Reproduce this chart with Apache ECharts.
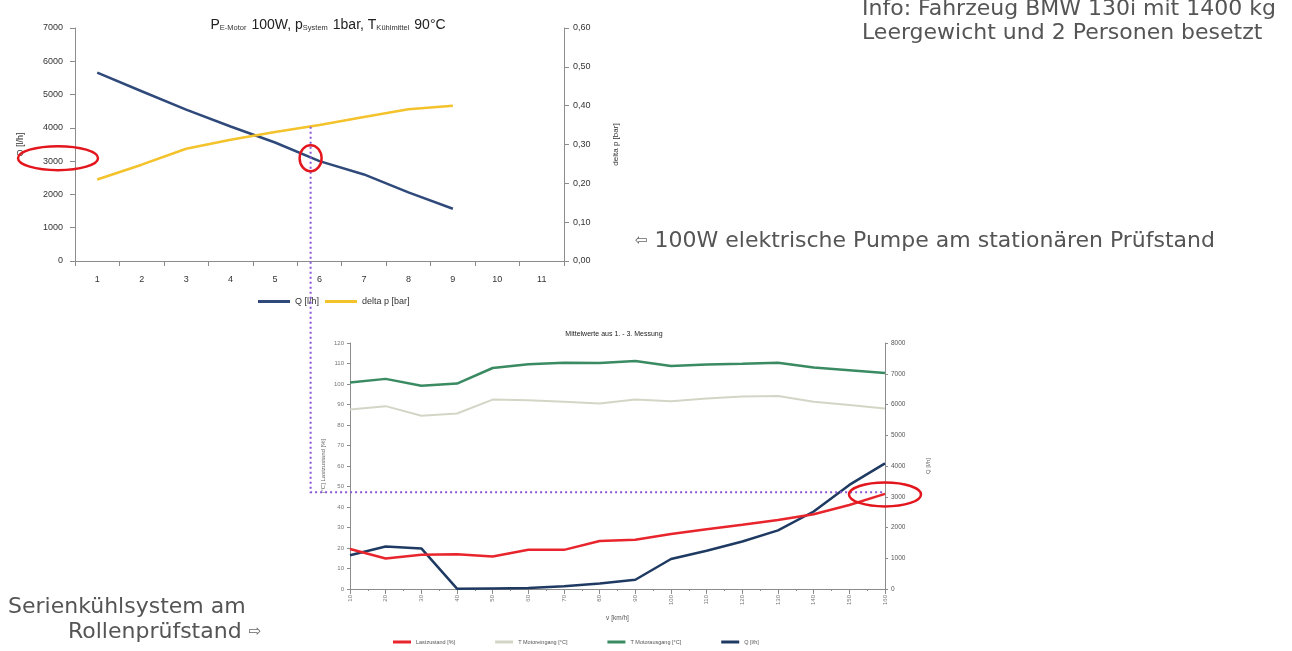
<!DOCTYPE html>
<html><head><meta charset="utf-8">
<script src="https://cdn.jsdelivr.net/npm/echarts@6/dist/echarts.min.js"></script>
<style>html,body{margin:0;padding:0;background:#fff}#c{width:1292px;height:651px}</style>
</head><body><div id="c"></div>
<script>
// ---- Top chart (100W electric pump at stationary test bench)
const pumpCategories = ['1','2','3','4','5','6','7','8','9','10','11'];
const pumpQ = [5660, 5100, 4550, 4040, 3560, 3000, 2600, 2060, 1570];
const pumpDeltaP = [0.210, 0.248, 0.289, 0.312, 0.332, 0.350, 0.371, 0.391, 0.400];
const pumpYTicksLeft = [0, 7000, 1000];
const pumpYTicksRight = [0, 0.6, 0.1];

// ---- Bottom chart (series cooling system on roller test bench)
const speeds = [10,20,30,40,50,60,70,80,90,100,110,120,130,140,150,160];
const lastzustand = [19.5, 14.9, 16.7, 17.0, 15.9, 19.1, 19.1, 23.4, 24.0, 26.8, 29.2, 31.3, 33.7, 36.5, 41.0, 46.4];
const tMotoreingang = [87.6, 89.2, 84.5, 85.6, 92.4, 92.1, 91.3, 90.5, 92.4, 91.6, 92.9, 93.9, 94.1, 91.3, 89.7, 88.0];
const tMotorausgang = [100.7, 102.5, 99.1, 100.2, 107.8, 109.6, 110.4, 110.3, 111.2, 108.8, 109.5, 109.9, 110.4, 108.0, 106.7, 105.4];
const qRoller = [1100, 1385, 1320, 10, 20, 30, 90, 180, 300, 975, 1245, 1545, 1905, 2520, 3385, 4085];

// ---- Annotation values (operating point)
const markCategoryPos = 4.8;   // between category index 4 ("5") and 5 ("6") -> 5.8
const markDeltaP = 0.346;
const markQ = 3150;
const markQLabel = 3000;

const pairs = (xs, ys) => xs.map((x, i) => [x, ys[i]]);
const axisGrey = '#8c8c8c';
const lbl = (size, color) => ({fontSize: size, color: color, fontFamily: 'Liberation Sans, Arial, sans-serif'});
const plain = v => String(v);

const chart = echarts.init(document.getElementById('c'), null, {renderer: 'canvas'});
const option = {
  animation: false,
  backgroundColor: '#fff',
  title: [{
    text: '{m|P}{s|E-Motor} {m|100W, p}{s|System} {m|1bar, T}{s|Kühlmittel} {m|90°C}',
    left: 323, top: 11, textAlign: 'center',
    textStyle: {fontWeight: 'normal', rich: {
      m: {fontSize: 14, fontWeight: 'normal', color: '#222', fontFamily: 'Liberation Sans, Arial'},
      s: {fontSize: 7.5, fontWeight: 'normal', color: '#333', fontFamily: 'Liberation Sans, Arial', padding: [6, 0, 0, 0]}
    }}
  }, {
    text: 'Mittelwerte aus 1. - 3. Messung',
    left: 609, top: 326, textAlign: 'center',
    textStyle: {fontSize: 7, fontWeight: 'normal', color: '#222', fontFamily: 'Liberation Sans, Arial'}
  }],
  grid: [
    {left: 75, right: 1292 - 564, top: 28, bottom: 651 - 261},
    {left: 350, right: 1292 - 885, top: 343, bottom: 651 - 589}
  ],
  legend: [{
    data: ['Q [l/h]', 'delta p [bar]'],
    left: 253, top: 292, icon: 'rect', itemWidth: 32, itemHeight: 3, itemGap: 6,
    textStyle: lbl(9, '#333')
  }, {
    data: ['Lastzustand [%]', 'T Motoreingang [°C]', 'T Motorausgang [°C]', 'Q [l/h] '],
    left: 388, top: 634, icon: 'rect', itemWidth: 18, itemHeight: 3, itemGap: 40,
    textStyle: lbl(5.5, '#555')
  }],
  xAxis: [{
    type: 'category', gridIndex: 0, data: pumpCategories, boundaryGap: true,
    axisLine: {lineStyle: {color: axisGrey}}, axisTick: {show: true, lineStyle: {color: axisGrey}},
    axisLabel: Object.assign(lbl(9, '#333'), {margin: 14}), splitLine: {show: false}
  }, {
    type: 'value', gridIndex: 1, min: 10, max: 160, interval: 10,
    name: 'v [km/h]', nameLocation: 'middle', nameGap: 26, nameTextStyle: lbl(6.5, '#555'),
    axisLine: {lineStyle: {color: axisGrey}}, axisTick: {show: true, lineStyle: {color: axisGrey}},
    minorTick: {show: true, splitNumber: 2, length: 2, lineStyle: {color: axisGrey}},
    axisLabel: Object.assign(lbl(6, '#777'), {rotate: 90, margin: 6, formatter: plain}), splitLine: {show: false}
  }],
  yAxis: [{
    type: 'value', gridIndex: 0, min: pumpYTicksLeft[0], max: pumpYTicksLeft[1], interval: pumpYTicksLeft[2],
    name: 'Q [l/h]', nameLocation: 'middle', nameRotate: 90, nameGap: 50, nameTextStyle: lbl(9, '#333'),
    axisLine: {show: true, lineStyle: {color: axisGrey}}, axisTick: {show: true, lineStyle: {color: axisGrey}},
    axisLabel: Object.assign(lbl(9, '#333'), {margin: 12, formatter: plain}), splitLine: {show: false}
  }, {
    type: 'value', gridIndex: 0, position: 'right', min: pumpYTicksRight[0], max: pumpYTicksRight[1], interval: pumpYTicksRight[2],
    name: 'delta p [bar]', nameLocation: 'middle', nameRotate: 90, nameGap: 48, nameTextStyle: lbl(8, '#333'),
    axisLine: {show: true, lineStyle: {color: axisGrey}}, axisTick: {show: true, lineStyle: {color: axisGrey}},
    axisLabel: Object.assign(lbl(9, '#333'), {margin: 9, formatter: v => v.toFixed(2).replace('.', ',')}),
    splitLine: {show: false}
  }, {
    type: 'value', gridIndex: 1, min: 0, max: 120, interval: 10,
    name: '[°C] Lastzustand [%]', nameLocation: 'middle', nameRotate: 90, nameGap: 24, nameTextStyle: lbl(6, '#666'),
    axisLine: {show: true, lineStyle: {color: axisGrey}}, axisTick: {show: true, length: 3, lineStyle: {color: axisGrey}},
    axisLabel: Object.assign(lbl(6, '#777'), {margin: 6, formatter: plain}), splitLine: {show: false}
  }, {
    type: 'value', gridIndex: 1, position: 'right', min: 0, max: 8000, interval: 1000,
    name: 'Q [l/h]', nameLocation: 'middle', nameRotate: 90, nameGap: 40, nameTextStyle: lbl(6, '#666'),
    axisLine: {show: true, lineStyle: {color: axisGrey}}, axisTick: {show: true, length: 3, lineStyle: {color: axisGrey}},
    axisLabel: Object.assign(lbl(6.5, '#555'), {margin: 6, formatter: plain}), splitLine: {show: false}
  }],
  series: [
    {name: 'Q [l/h]', type: 'line', xAxisIndex: 0, yAxisIndex: 0, data: pumpQ, showSymbol: false,
     lineStyle: {width: 2.5, color: '#2f4a7a'}, itemStyle: {color: '#2f4a7a'}},
    {name: 'delta p [bar]', type: 'line', xAxisIndex: 0, yAxisIndex: 1, data: pumpDeltaP, showSymbol: false,
     lineStyle: {width: 2.5, color: '#f4c22b'}, itemStyle: {color: '#f4c22b'}},
    {name: 'T Motoreingang [°C]', type: 'line', xAxisIndex: 1, yAxisIndex: 2, data: pairs(speeds, tMotoreingang), showSymbol: false,
     lineStyle: {width: 2, color: '#d3d6c6'}, itemStyle: {color: '#d3d6c6'}},
    {name: 'T Motorausgang [°C]', type: 'line', xAxisIndex: 1, yAxisIndex: 2, data: pairs(speeds, tMotorausgang), showSymbol: false,
     lineStyle: {width: 2.5, color: '#3a8a62'}, itemStyle: {color: '#3a8a62'}},
    {name: 'Q [l/h] ', type: 'line', xAxisIndex: 1, yAxisIndex: 3, data: pairs(speeds, qRoller), showSymbol: false,
     lineStyle: {width: 2.5, color: '#1f3a62'}, itemStyle: {color: '#1f3a62'}},
    {name: 'Lastzustand [%]', type: 'line', xAxisIndex: 1, yAxisIndex: 2, data: pairs(speeds, lastzustand), showSymbol: false,
     lineStyle: {width: 2.5, color: '#e8242c'}, itemStyle: {color: '#e8242c'}}
  ]
};
chart.setOption(option);

// ---- annotations placed through the axes
const i0 = Math.floor(markCategoryPos), f = markCategoryPos - i0;
const pA = chart.convertToPixel({xAxisIndex: 0, yAxisIndex: 1}, [pumpCategories[i0], markDeltaP]);
const pB = chart.convertToPixel({xAxisIndex: 0, yAxisIndex: 1}, [pumpCategories[i0 + 1], markDeltaP]);
const vx = pA[0] + f * (pB[0] - pA[0]);
const vTop = pA[1];
const qTopY = chart.convertToPixel({xAxisIndex: 0, yAxisIndex: 0}, [pumpCategories[0], markQ])[1];
const qLabelY = chart.convertToPixel({xAxisIndex: 0, yAxisIndex: 0}, [pumpCategories[0], markQLabel])[1];
const topGridRect = chart.getModel().getComponent('grid', 0).coordinateSystem.getRect();
const hPt = chart.convertToPixel({xAxisIndex: 1, yAxisIndex: 3}, [speeds[speeds.length - 1], markQ]);
const lblPt = chart.convertToPixel({xAxisIndex: 1, yAxisIndex: 3}, [speeds[speeds.length - 1], markQLabel]);

const purple = '#8a55d6';
const red = '#e3161e';
const FONT = '"DejaVu Sans", Verdana, sans-serif';
const txt = (x, y, s) => ({type: 'text', x: x, y: y, silent: true, z: 20,
  style: {text: s, fill: '#555', font: '22px ' + FONT, textAlign: 'left', textVerticalAlign: 'middle',
    rich: {t: {fontSize: 22, fontFamily: FONT, fill: '#555', color: '#555'},
           a: {fontSize: 15, fontFamily: FONT, fill: '#666', color: '#666'}}}});

chart.setOption({graphic: [
  {type: 'polyline', silent: true, z: 10, shape: {points: [[vx, vTop], [vx, hPt[1]], [hPt[0], hPt[1]]]},
   style: {stroke: purple, lineWidth: 2, lineDash: [2, 3], fill: null}},
  {type: 'ellipse', silent: true, z: 11, shape: {cx: topGridRect.x - 17, cy: qLabelY - 3, rx: 40, ry: 12},
   style: {stroke: red, lineWidth: 2.5, fill: null}},
  {type: 'ellipse', silent: true, z: 11, shape: {cx: vx, cy: qTopY + 2, rx: 11, ry: 13},
   style: {stroke: red, lineWidth: 2.5, fill: null}},
  {type: 'ellipse', silent: true, z: 11, shape: {cx: hPt[0], cy: (hPt[1] + lblPt[1]) / 2, rx: 36, ry: 12},
   style: {stroke: red, lineWidth: 2.5, fill: null}},
  txt(862, 9, '{t|Info: Fahrzeug BMW 130i mit 1400 kg}'),
  txt(862, 33, '{t|Leergewicht und 2 Personen besetzt}'),
  txt(635, 241, '{a|⇦}{t| 100W elektrische Pumpe am stationären Prüfstand}'),
  txt(8, 607, '{t|Serienkühlsystem am}'),
  txt(68, 632, '{t|Rollenprüfstand }{a|⇨}')
]});
</script>
</body></html>
